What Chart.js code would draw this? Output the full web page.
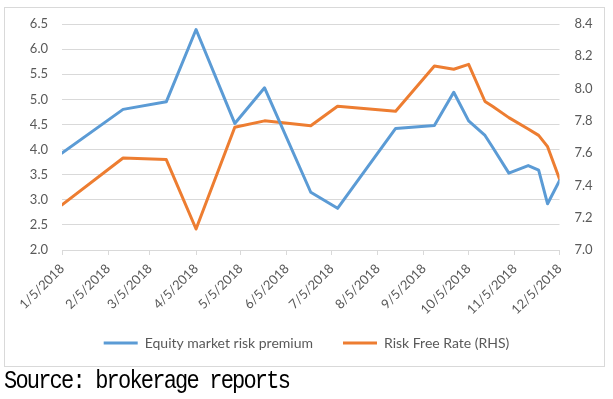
<!DOCTYPE html>
<html><head><meta charset="utf-8">
<script src="https://cdn.jsdelivr.net/npm/chart.js@4/dist/chart.umd.min.js"></script>
<style>
html,body{margin:0;padding:0;background:#fff;}
#wrap{position:relative;width:613px;height:399px;overflow:hidden;background:#fff;}
#frame{position:absolute;left:4px;top:7px;width:601px;height:360px;border:1px solid #d9d9d9;box-sizing:border-box;}
#cv{position:absolute;left:0;top:0;}
#src{position:absolute;left:4px;top:369px;font-family:"Liberation Mono",monospace;font-size:22px;letter-spacing:-1.8px;line-height:22px;color:#000;white-space:pre;transform:scale(1,1.18);transform-origin:0 0;}
</style></head>
<body><div id="wrap"><div id="frame"></div><canvas id="cv" width="613" height="380" style="width:613px;height:380px"></canvas><div id="src">Source: brokerage reports</div></div>
<script>
const dates = ['2018-01-05','2018-02-15','2018-03-16','2018-04-05','2018-05-01','2018-05-21','2018-06-21','2018-07-09','2018-08-17','2018-09-12','2018-09-25','2018-10-05','2018-10-16','2018-10-21','2018-11-01','2018-11-14','2018-11-21','2018-11-27','2018-12-05'];
const equityPremium = [3.93, 4.80, 4.95, 6.39, 4.52, 5.23, 3.15, 2.83, 4.42, 4.48, 5.14, 4.57, 4.28, 4.05, 3.53, 3.68, 3.59, 2.92, 3.38];
const riskFreeRate = [7.28, 7.57, 7.56, 7.13, 7.76, 7.80, 7.77, 7.89, 7.86, 8.14, 8.12, 8.15, 7.92, 7.89, 7.82, 7.75, 7.71, 7.64, 7.44];
const xTickLabels = ['1/5/2018','2/5/2018','3/5/2018','4/5/2018','5/5/2018','6/5/2018','7/5/2018','8/5/2018','9/5/2018','10/5/2018','11/5/2018','12/5/2018'];
const seriesNames = ['Equity market risk premium','Risk Free Rate (RHS)'];

const DAY = 86400000;
function dayNum(y,m,d){return Date.UTC(y,m-1,d)/DAY;}
function parseIso(s){const p=s.split('-').map(Number);return dayNum(p[0],p[1],p[2]);}
function parseTick(s){const p=s.split('/').map(Number);return dayNum(p[2],p[0],p[1]);}
const tickVals = xTickLabels.map(parseTick);
const labelMap = new Map(tickVals.map((v,i)=>[v,xTickLabels[i]]));
const xs = dates.map(parseIso);

const tickFont = {family:'Lato', size:13};
const legendFont = {family:'Lato', size:14};
const tickColor = '#595959';
const gridColor = '#d9d9d9';

const legendShift = {
  id:'legendShift',
  afterLayout(chart){ const l = chart.legend; if(l){ l.top -= 10; l.bottom -= 10; } }
};

new Chart(document.getElementById('cv').getContext('2d'), {
  type:'line',
  data:{datasets:[
    {label:seriesNames[0], data:xs.map((x,i)=>({x:x,y:equityPremium[i]})), borderColor:'#5b9bd5', backgroundColor:'#5b9bd5', borderWidth:3, pointRadius:0, tension:0, yAxisID:'y', borderJoinStyle:'round', borderCapStyle:'round'},
    {label:seriesNames[1], data:xs.map((x,i)=>({x:x,y:riskFreeRate[i]})), borderColor:'#ed7d31', backgroundColor:'#ed7d31', borderWidth:3, pointRadius:0, tension:0, yAxisID:'y1', borderJoinStyle:'round', borderCapStyle:'round'}
  ]},
  plugins:[legendShift],
  options:{
    responsive:false, animation:false,
    layout:{padding:{left:0,right:0,top:24,bottom:10}},
    plugins:{
      legend:{position:'bottom', labels:{usePointStyle:true, pointStyle:'line', pointStyleWidth:34, font:legendFont, color:tickColor, padding:30}},
      tooltip:{enabled:false}
    },
    scales:{
      x:{type:'linear', min:tickVals[0], max:tickVals[tickVals.length-1],
         afterBuildTicks:s=>{s.ticks=tickVals.map(v=>({value:v}));},
         afterFit:s=>{s.height=66;},
         ticks:{autoSkip:false, maxRotation:45, minRotation:45, padding:6, color:tickColor, font:tickFont, callback:v=>labelMap.get(v)||''},
         grid:{drawOnChartArea:false, drawTicks:true, tickLength:5, color:gridColor},
         border:{display:true, color:gridColor}},
      y:{position:'left', min:2, max:6.5,
         ticks:{stepSize:0.5, padding:14, color:tickColor, font:tickFont, callback:v=>v.toFixed(1)},
         grid:{color:gridColor, drawTicks:false}, border:{display:false},
         afterFit:s=>{s.width=62;}},
      y1:{position:'right', min:7, max:8.4,
         ticks:{stepSize:0.2, padding:15, color:tickColor, font:tickFont, callback:v=>v.toFixed(1)},
         grid:{drawOnChartArea:false, drawTicks:false}, border:{display:false},
         afterFit:s=>{s.width=53.5;}}
    }
  }
});
</script>
</body></html>
